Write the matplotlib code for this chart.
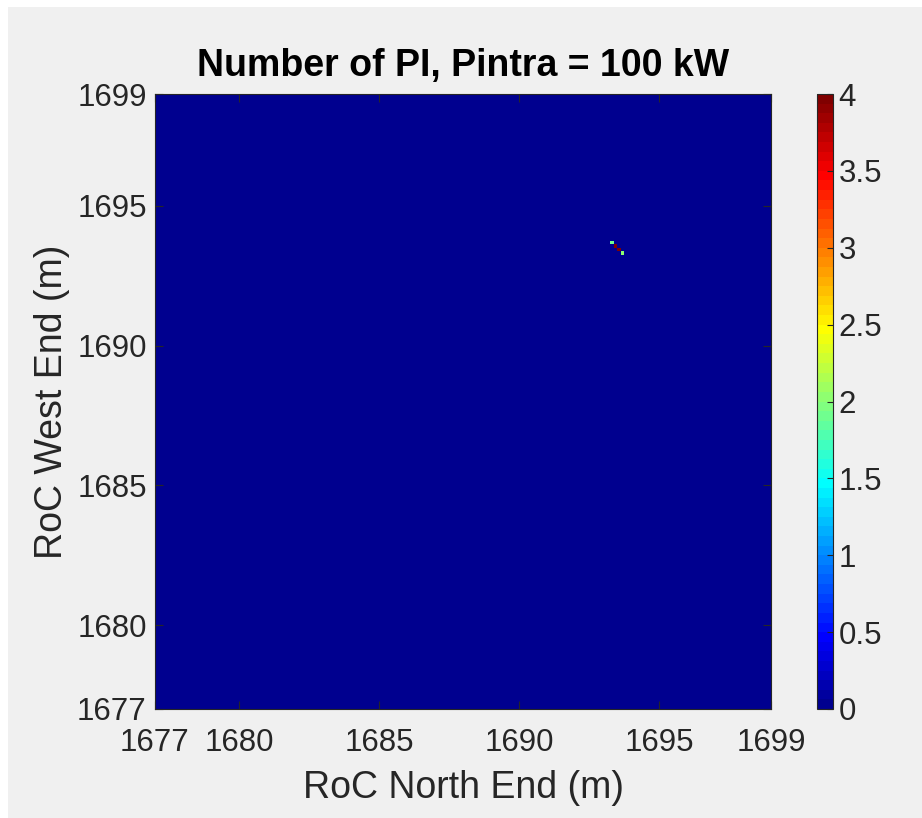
import numpy as np
import matplotlib
matplotlib.use("Agg")
import matplotlib.pyplot as plt
from matplotlib.patches import Rectangle
from matplotlib.colors import ListedColormap

plt.rcParams['font.family'] = ['Liberation Sans', 'DejaVu Sans']

# Grid of radius-of-curvature values (m)
roc_min, roc_max = 1677.0, 1699.0
n_cells = 176

# Cells with a non-zero count of parametric instabilities
hot_north = [1693.3125, 1693.4375, 1693.5625, 1693.6875]
hot_west = [1693.6500, 1693.5250, 1693.4000, 1693.2750]
hot_count = [1.9, 4.0, 4.0, 2.0]

x_ticks = [1677, 1680, 1685, 1690, 1695, 1699]
y_ticks = [1677, 1680, 1685, 1690, 1695, 1699]
cbar_ticks = [0, 0.5, 1, 1.5, 2, 2.5, 3, 3.5, 4]


def jet64(m=64):
    """Piecewise-linear jet colormap with m discrete levels."""
    n = int(np.ceil(m / 4))
    u = np.concatenate([np.arange(1, n + 1) / n, np.ones(n - 1), np.arange(n, 0, -1) / n])
    g = int(np.ceil(n / 2)) - (1 if m % 4 == 1 else 0) + np.arange(1, len(u) + 1)
    r = g + n
    b = g - n
    J = np.zeros((m, 3))
    for ch, idx in ((0, r), (1, g), (2, b)):
        ok = (idx >= 1) & (idx <= m)
        J[idx[ok] - 1, ch] = u[ok]
    return ListedColormap(J)


edges = np.linspace(roc_min, roc_max, n_cells + 1)
counts = np.zeros((n_cells, n_cells))
for xn, yw, c in zip(hot_north, hot_west, hot_count):
    i = np.clip(np.searchsorted(edges, yw) - 1, 0, n_cells - 1)
    j = np.clip(np.searchsorted(edges, xn) - 1, 0, n_cells - 1)
    counts[i, j] = c

cmap = jet64(64)

fig = plt.figure(figsize=(9.22, 8.18), dpi=100, facecolor='white')
fig.patches.append(Rectangle((8 / 922, -0.05), 1.1, 1.05 - 7 / 818, transform=fig.transFigure,
                             facecolor='#f0f0f0', edgecolor='none', zorder=-10))

ax = fig.add_axes([155 / 922, 109 / 818, 616 / 922, 615 / 818])
mesh = ax.pcolormesh(edges, edges, counts, cmap=cmap, vmin=0, vmax=4, shading='flat')
ax.set_xlim(roc_min, roc_max)
ax.set_ylim(roc_min, roc_max)
ax.set_xticks(x_ticks)
ax.set_yticks(y_ticks)
ax.tick_params(direction='in', length=6, width=0.8, labelsize=22.5, colors='#262626',
               top=True, right=True)
ax.tick_params(axis='x', pad=14)
ax.tick_params(axis='y', pad=6)
for s in ax.spines.values():
    s.set_color('#262626')
    s.set_linewidth(0.8)
ax.set_xlabel('RoC North End (m)', fontsize=27, color='#262626', labelpad=8)
ax.set_ylabel('RoC West End (m)', fontsize=27, color='#262626', labelpad=5)
ax.set_title('Number of PI, Pintra = 100 kW', fontsize=27, fontweight='bold', pad=13)

cax = fig.add_axes([817 / 922, 109 / 818, 16 / 922, 615 / 818])
cb = fig.colorbar(mesh, cax=cax, ticks=cbar_ticks)
cb.ax.set_yticklabels(['0', '0.5', '1', '1.5', '2', '2.5', '3', '3.5', '4'])
cb.ax.tick_params(direction='in', length=4, width=0.8, labelsize=22.5, colors='#262626', pad=4)
cb.outline.set_edgecolor('#262626')
cb.outline.set_linewidth(0.8)

fig.savefig('out.png', dpi=100, facecolor=fig.get_facecolor())
